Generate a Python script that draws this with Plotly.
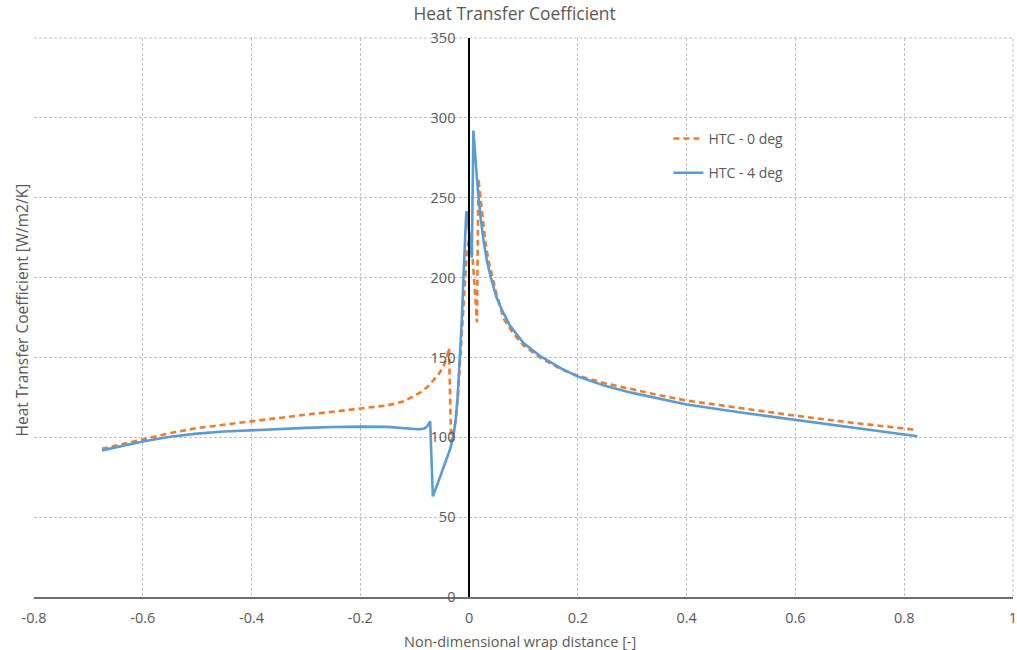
import plotly.graph_objects as go

# ---- data ----
x_0deg = [-0.675, -0.65, -0.6, -0.55, -0.5, -0.45, -0.4, -0.35, -0.3, -0.25, -0.2, -0.15,
          -0.12, -0.09, -0.075, -0.065, -0.055, -0.047, -0.041, -0.037, -0.035,
          -0.033, -0.03, -0.025, -0.021, -0.0185, -0.016, -0.013, -0.0092, -0.0042, 0.0, 0.002,
          0.0065, 0.011, 0.0145, 0.017, 0.021, 0.0244, 0.03, 0.036, 0.043, 0.05, 0.064, 0.08,
          0.1, 0.13, 0.17, 0.2, 0.25, 0.3, 0.35, 0.4, 0.5, 0.6, 0.7, 0.818]
htc_0deg = [92.8, 94.8, 98.9, 102.6, 105.8, 108.0, 110.0, 112.2, 114.2, 116.0, 117.8, 120.0,
            122.5, 128.0, 132.0, 136.0, 140.0, 144.5, 150.0, 156.0, 126.0,
            97.0, 101.0, 110.0, 124.0, 138.0, 150.0, 172.0, 195.0, 215.6, 225.0, 228.0,
            212.0, 190.0, 172.0, 262.0, 250.0, 236.5, 222.0, 210.0, 199.0, 190.0, 174.0, 165.5,
            157.5, 150.0, 142.5, 138.5, 133.8, 129.9, 126.3, 123.0, 118.2, 113.5, 109.3, 104.8]

x_4deg = [-0.675, -0.65, -0.6, -0.55, -0.5, -0.45, -0.4, -0.35, -0.3, -0.25, -0.2, -0.15,
          -0.12, -0.1, -0.09, -0.082, -0.077, -0.0716, -0.069, -0.0666, -0.06, -0.053, -0.047,
          -0.041, -0.035, -0.029, -0.025, -0.021, -0.0185, -0.0165, -0.0134, -0.0105, -0.0073,
          -0.0055, -0.0045, -0.003, 0.0, 0.003, 0.0049, 0.0079, 0.012, 0.016, 0.021, 0.027,
          0.033, 0.04, 0.05, 0.06, 0.075, 0.1, 0.13, 0.17, 0.2, 0.25, 0.3, 0.35, 0.4, 0.5,
          0.6, 0.7, 0.824]
htc_4deg = [91.8, 93.8, 97.4, 100.3, 102.3, 103.6, 104.5, 105.3, 105.9, 106.4, 106.7, 106.5,
            106.0, 105.2, 105.0, 105.5, 107.0, 110.0, 85.0, 63.0, 69.0, 75.5, 80.5,
            86.0, 92.5, 100.6, 110.0, 125.7, 140.0, 153.0, 174.0, 199.0, 230.0,
            239.0, 241.5, 239.0, 228.0, 218.0, 212.5, 292.0, 272.0, 255.0, 238.0, 222.0,
            210.0, 200.0, 188.0, 180.0, 170.0, 159.0, 151.0, 143.0, 138.0, 132.2, 127.8, 124.0,
            120.5, 115.5, 111.0, 106.5, 100.6]

x_ticks = [-0.8, -0.6, -0.4, -0.2, 0, 0.2, 0.4, 0.6, 0.8, 1]
x_tick_text = ["-0.8", "-0.6", "-0.4", "-0.2", "0", "0.2", "0.4", "0.6", "0.8", "1"]
y_ticks = [0, 50, 100, 150, 200, 250, 300, 350]

ORANGE = "#ED7D31"
BLUE = "#5B9BD5"
TXT = "#595959"
GRID = "#bfbfbf"
FONT = "Open Sans"

fig = go.Figure()
fig.add_trace(go.Scatter(x=x_0deg, y=htc_0deg, mode="lines", name="HTC - 0 deg",
                         legendgroup="a",
                         line=dict(color=ORANGE, width=2.6, dash="6px,4px")))
fig.add_trace(go.Scatter(x=x_4deg, y=htc_4deg, mode="lines", name="HTC - 4 deg",
                         legendgroup="b",
                         line=dict(color=BLUE, width=2.6)))

fig.update_layout(
    width=1017, height=650,
    margin=dict(l=34, r=4, t=38, b=53),
    paper_bgcolor="white", plot_bgcolor="white",
    font=dict(family=FONT, size=14, color=TXT),
    title=dict(text="Heat Transfer Coefficient", x=0.506, xanchor="center",
               y=0.9785, yanchor="middle", automargin=False,
               font=dict(size=17.4, color=TXT)),
    showlegend=True,
    legend=dict(x=0.648, y=0.848, xanchor="left", yanchor="top",
                bgcolor="rgba(255,255,255,0)", font=dict(size=14, color=TXT),
                tracegroupgap=13, itemwidth=30, traceorder="grouped"),
    xaxis=dict(range=[-0.8, 1], tickmode="array", tickvals=x_ticks, ticktext=x_tick_text,
               showgrid=True, gridcolor=GRID, griddash="3px,2px", gridwidth=1,
               zeroline=False, showline=True, linecolor="#6e6e6e", linewidth=2,
               ticks="", ticklabelstandoff=7, automargin=False, ticklabeloverflow="allow",
               tickfont=dict(size=14.5, color=TXT)),
    yaxis=dict(range=[0, 350], tickmode="array", tickvals=y_ticks,
               showgrid=True, gridcolor=GRID, griddash="3px,2px", gridwidth=1,
               zeroline=False, showline=True, linecolor="black", linewidth=1.5,
               anchor="free", position=0.8 / 1.8, ticks="", ticklabelstandoff=10,
               automargin=False, ticklabeloverflow="allow",
               tickfont=dict(size=14.5, color=TXT)),
)

# dashed plot-area border at the top and right edges (grid lines at 350 and 1)
fig.add_shape(type="line", xref="paper", yref="paper", x0=1, x1=1, y0=0, y1=1,
              line=dict(color=GRID, width=1, dash="3px,2px"), layer="below")
fig.add_shape(type="line", xref="paper", yref="paper", x0=0, x1=1, y0=1, y1=1,
              line=dict(color=GRID, width=1, dash="3px,2px"), layer="below")

fig.add_annotation(text="Heat Transfer Coefficient [W/m2/K]", xref="paper", yref="paper",
                   x=-0.012, y=0.513, textangle=-90, showarrow=False,
                   font=dict(family=FONT, size=15.5, color=TXT),
                   xanchor="center", yanchor="middle")
fig.add_annotation(text="Non-dimensional wrap distance [-]", xref="paper", yref="paper",
                   x=0.4965, y=-0.0789, showarrow=False,
                   font=dict(family=FONT, size=14.5, color=TXT),
                   xanchor="center", yanchor="middle")

page_css = ("document.documentElement.style.margin='0';document.body.style.margin='0';"
            "document.documentElement.style.overflow='hidden';document.body.style.overflow='hidden';")
fig.write_html("out.html", post_script=page_css, config={"displayModeBar": False})
